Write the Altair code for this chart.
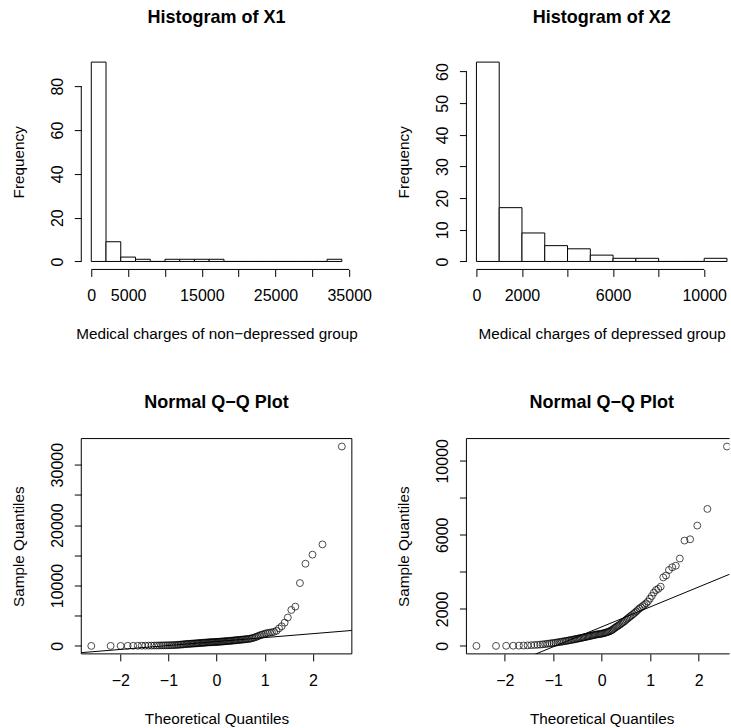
import json
from statistics import NormalDist

import altair as alt
import numpy as np
import pandas as pd

FONT = "Liberation Sans"
MINUS = "\u2212"

# Medical charges, sorted, non-depressed group (n = 108)
x1_charges = [
    0, 0, 0, 10, 20, 25, 35, 40, 50, 55,
    60, 70, 75, 85, 90, 100, 105, 110, 120, 130,
    140, 155, 175, 195, 215, 235, 260, 285, 305, 325,
    340, 355, 370, 385, 400, 415, 430, 445, 460, 475,
    490, 505, 520, 535, 550, 565, 580, 595, 605, 615,
    625, 635, 642, 650,
    660, 675, 690, 705, 720, 735, 750, 765, 780, 800,
    815, 830, 850, 870, 890, 910, 930, 950, 970, 990,
    1010, 1030, 1055, 1080, 1105, 1130,
    1150, 1190, 1240, 1300, 1380, 1460, 1560, 1680, 1790, 1880, 1960,
    2080, 2130, 2190, 2250, 2330, 2500, 2900, 3250, 3850,
    4700, 5950, 6500, 10400, 13600, 15100, 16800, 33000,
]

# Medical charges, sorted, depressed group (n = 103)
x2_charges = [
    0, 0, 5, 10, 15, 20, 30, 40, 50, 60,
    70, 85, 100, 115, 130, 145, 160, 175, 190, 205,
    220, 235, 250, 265, 280, 295, 310, 325, 340, 355,
    370, 385, 400, 415, 430, 445, 460, 475, 490, 505,
    520, 535, 550, 565, 580, 595, 610, 620, 630, 640,
    650, 660, 675, 690, 710, 730, 750, 775, 800, 830,
    870, 920, 970,
    1020, 1060, 1100, 1150, 1200, 1250, 1300, 1350, 1420, 1480,
    1540, 1600, 1660, 1720, 1790, 1860, 1940,
    2020, 2080, 2150, 2220, 2300, 2400, 2550, 2700, 2880,
    3020, 3080, 3200, 3700, 3800,
    4100, 4250, 4330, 4720,
    5690, 5760, 6500, 7400, 10770,
]

x1_breaks = list(range(0, 34001, 2000))
x2_breaks = list(range(0, 11001, 1000))

x1_ticks = [0, 5000, 10000, 15000, 20000, 25000, 30000, 35000]
x1_tick_labels = [0, 5000, 15000, 25000, 35000]
x2_ticks = [0, 2000, 4000, 6000, 8000, 10000]
x2_tick_labels = [0, 2000, 6000, 10000]
freq1_ticks = [0, 20, 40, 60, 80]
freq2_ticks = [0, 10, 20, 30, 40, 50, 60]
qq_x_ticks = [-2, -1, 0, 1, 2]
qq1_y_ticks = [0, 5000, 10000, 15000, 20000, 25000, 30000]
qq1_y_labels = [0, 10000, 20000, 30000]
qq2_y_ticks = [0, 2000, 4000, 6000, 8000, 10000]
qq2_y_labels = [0, 2000, 6000, 10000]

PW, PH = 270.7, 215.4      # plot region of each panel
PW_RIGHT = 263.3           # right column runs off the page edge
HGAP, VGAP = 114.3, 168.6
TICK = 7
LABEL_SIZE = 16
AXIS_TITLE_SIZE = 15.3
NO_FRAME = alt.ViewBackground(stroke="transparent", strokeWidth=0)


def extend(lo, hi, frac=0.04):
    d = (hi - lo) * frac
    return lo - d, hi + d


def label_expr(shown):
    return (f"indexof({json.dumps(shown)}, datum.value) >= 0 ? "
            f"replace(datum.label, '-', '{MINUS}') : ''")


def x_axis(ticks, shown, title, label_base):
    return alt.Axis(
        values=ticks, tickCount=len(ticks), labelExpr=label_expr(shown), format="d",
        domain=False, grid=False, tickSize=TICK, tickColor="black", tickWidth=1,
        labelFont=FONT, labelFontSize=LABEL_SIZE, labelColor="black", labelAngle=0,
        labelAlign="center", labelBaseline="alphabetic",
        labelPadding=label_base - TICK, labelFlush=False, labelOverlap=False,
        title=title, titleFont=FONT, titleFontSize=AXIS_TITLE_SIZE, titleFontWeight="normal",
        titleColor="black", titleX=PW / 2, titleY=69.5, titleAlign="center",
        titleBaseline="alphabetic", titleAngle=0,
    )


def y_axis(ticks, shown, title):
    return alt.Axis(
        values=ticks, tickCount=len(ticks), labelExpr=label_expr(shown), format="d",
        domain=False, grid=False, tickSize=TICK, tickColor="black", tickWidth=1,
        labelFont=FONT, labelFontSize=LABEL_SIZE, labelColor="black", labelAngle=270,
        labelAlign="center", labelBaseline="alphabetic",
        labelPadding=19.2 - TICK, labelFlush=False, labelOverlap=False,
        title=title, titleFont=FONT, titleFontSize=AXIS_TITLE_SIZE, titleFontWeight="normal",
        titleColor="black", titleX=-57.6, titleY=PH / 2, titleAlign="center",
        titleBaseline="alphabetic", titleAngle=270,
    )


def panel_title(text):
    # main title, centred over the full plot region
    return alt.Chart(pd.DataFrame({"t": [text]})).mark_text(
        font=FONT, fontSize=18, fontWeight="bold", color="black",
        align="center", baseline="alphabetic",
    ).encode(text="t:N", x=alt.value(PW / 2), y=alt.value(-31))


def hist_panel(values, breaks, title, xlab, xticks, xshown, yticks, width):
    vals = np.asarray(values)
    edges = np.asarray(breaks)
    # right-closed bins, lowest break included
    idx = np.clip(np.searchsorted(edges, vals, side="left") - 1, 0, len(edges) - 2)
    counts = np.bincount(idx, minlength=len(edges) - 1)
    bins = pd.DataFrame({"lo": edges[:-1], "hi": edges[1:], "n": counts})

    xlo, xhi = extend(edges[0], edges[-1])
    xdom = [xlo, xlo + (xhi - xlo) * width / PW]
    ydom = list(extend(0, int(counts.max())))

    bars = alt.Chart(bins).mark_rect(fill="white", stroke="black", strokeWidth=1).encode(
        x=alt.X("lo:Q", scale=alt.Scale(domain=xdom, nice=False, zero=False),
                axis=x_axis(xticks, xshown, xlab, 31)),
        x2="hi:Q",
        y=alt.Y("n:Q", scale=alt.Scale(domain=ydom, nice=False, zero=False),
                axis=y_axis(yticks, yticks, "Frequency")),
        y2=alt.datum(0),
    )
    # axis lines run from the first tick to the last one
    y_line = alt.Chart(pd.DataFrame({"a": [yticks[0]], "b": [yticks[-1]]})).mark_rule(
        color="black", strokeWidth=1).encode(x=alt.value(0), y="a:Q", y2="b:Q")
    x_line = alt.Chart(pd.DataFrame({"a": [xticks[0]], "b": [xticks[-1]]})).mark_rule(
        color="black", strokeWidth=1).encode(y=alt.value(PH), x="a:Q", x2="b:Q")
    return alt.layer(bars, y_line, x_line, panel_title(title)).properties(
        width=width, height=PH, view=NO_FRAME)


def qq_panel(values, yticks, yshown, width, right_edge):
    v = sorted(values)
    n = len(v)
    nd = NormalDist()
    theo = [nd.inv_cdf((i + 0.5) / n) for i in range(n)]
    pts = pd.DataFrame({"theo": theo, "sample": v})

    z1, z3 = nd.inv_cdf(0.25), nd.inv_cdf(0.75)
    q1, q3 = np.percentile(v, [25, 75])
    slope = (q3 - q1) / (z3 - z1)
    intercept = q1 - slope * z1

    xlo, xhi = extend(theo[0], theo[-1])
    xdom = [xlo, xlo + (xhi - xlo) * width / PW]
    ydom = list(extend(v[0], v[-1]))
    ref = pd.DataFrame({"theo": xdom, "sample": [intercept + slope * x for x in xdom]})

    xs = alt.Scale(domain=xdom, nice=False, zero=False)
    ys = alt.Scale(domain=ydom, nice=False, zero=False)
    points = alt.Chart(pts).mark_point(
        shape="circle", filled=False, color="black", size=48, strokeWidth=1, clip=True
    ).encode(
        x=alt.X("theo:Q", scale=xs,
                axis=x_axis(qq_x_ticks, qq_x_ticks, "Theoretical Quantiles", 32)),
        y=alt.Y("sample:Q", scale=ys, axis=y_axis(yticks, yshown, "Sample Quantiles")),
    )
    line = alt.Chart(ref).mark_line(color="black", strokeWidth=1, clip=True).encode(
        x="theo:Q", y="sample:Q")

    box = alt.Chart(pd.DataFrame({"k": [0]}))
    edges = [
        box.mark_rule(color="black").encode(x=alt.value(0), x2=alt.value(width), y=alt.value(0)),
        box.mark_rule(color="black").encode(x=alt.value(0), x2=alt.value(width), y=alt.value(PH)),
        box.mark_rule(color="black").encode(x=alt.value(0), y=alt.value(0), y2=alt.value(PH)),
    ]
    if right_edge:
        edges.append(box.mark_rule(color="black").encode(
            x=alt.value(width), y=alt.value(0), y2=alt.value(PH)))
    return alt.layer(points, line, *edges, panel_title("Normal Q" + MINUS + "Q Plot")).properties(
        width=width, height=PH, view=NO_FRAME)


h1 = hist_panel(x1_charges, x1_breaks, "Histogram of X1",
                "Medical charges of non" + MINUS + "depressed group",
                x1_ticks, x1_tick_labels, freq1_ticks, PW)
h2 = hist_panel(x2_charges, x2_breaks, "Histogram of X2",
                "Medical charges of depressed group",
                x2_ticks, x2_tick_labels, freq2_ticks, PW_RIGHT)
q1 = qq_panel(x1_charges, qq1_y_ticks, qq1_y_labels, PW, True)
q2 = qq_panel(x2_charges, qq2_y_ticks, qq2_y_labels, PW_RIGHT, False)

chart = (
    alt.concat(h1, h2, q1, q2, columns=2, bounds="flush",
               spacing=alt.RowColnumber(row=VGAP, column=HGAP))
    .properties(padding={"left": 11.3, "top": 9, "right": 0, "bottom": 0},
                background="white")
    .configure_view(stroke="transparent", strokeWidth=0)
    .configure(font=FONT)
)

chart.save("out.html", embed_options={"renderer": "svg", "actions": False})
